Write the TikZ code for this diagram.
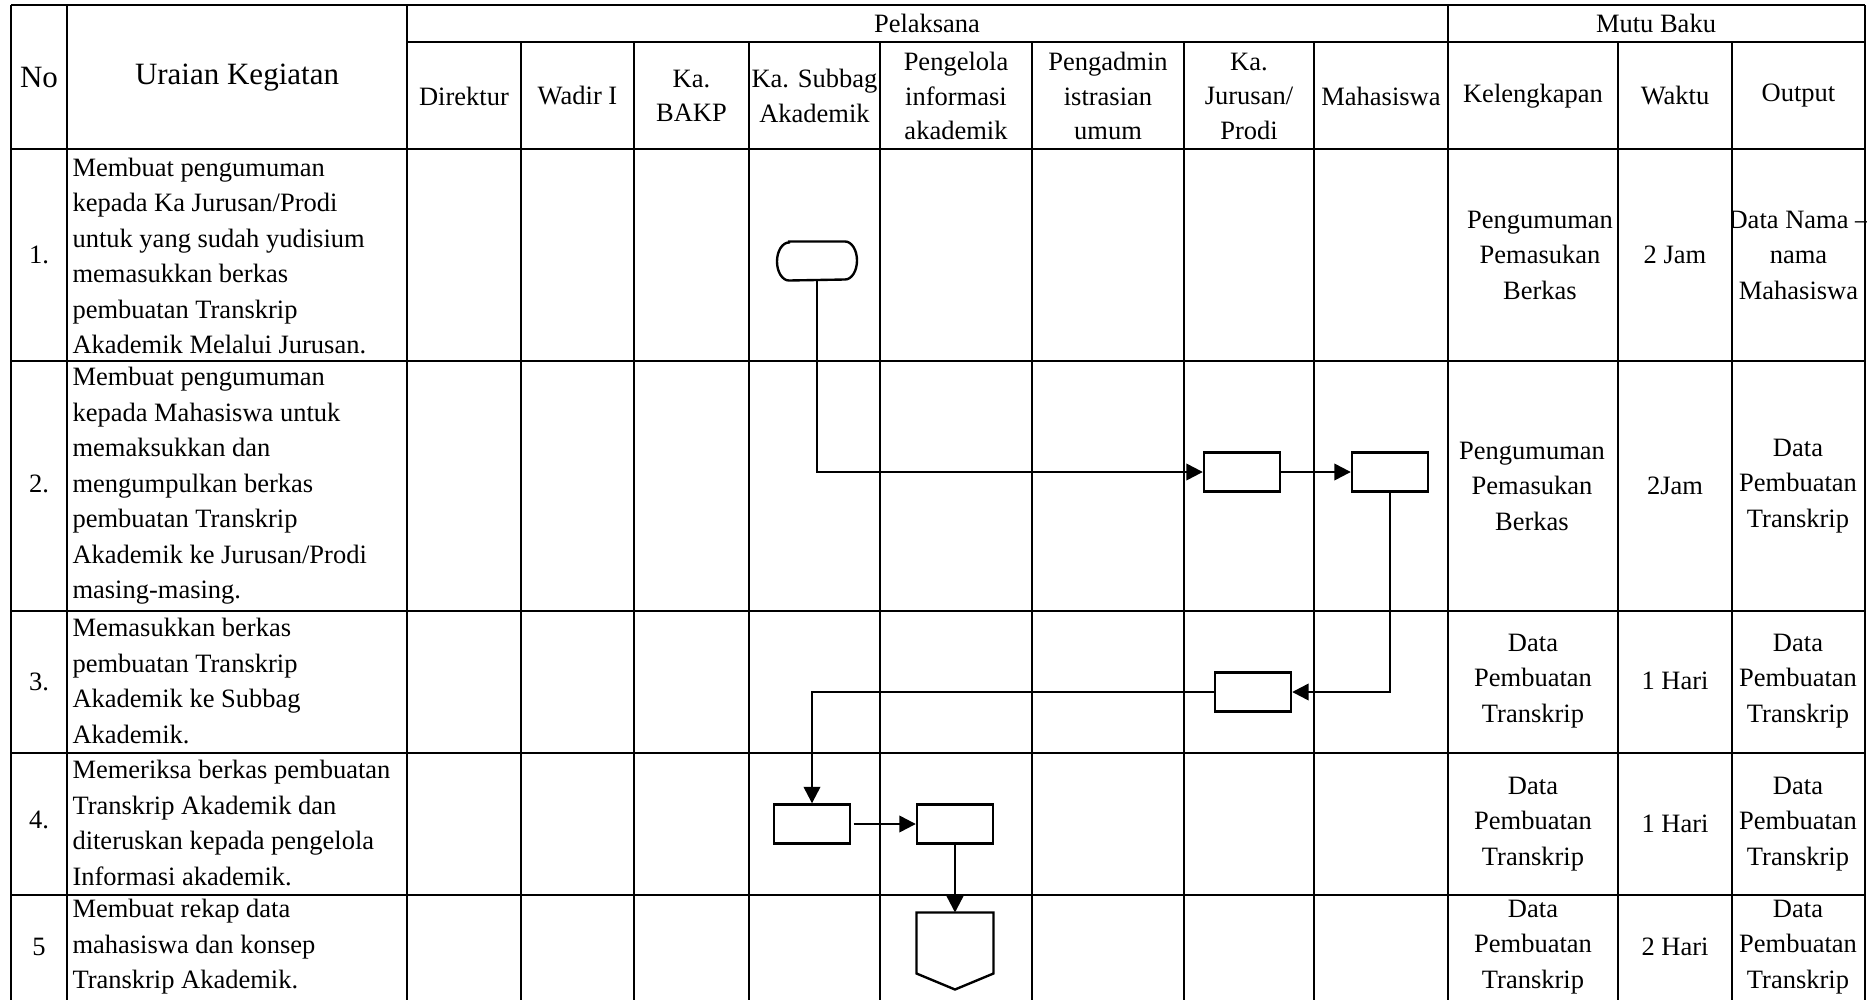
\documentclass[tikz,border=0pt]{standalone}
\usepackage{fontspec}
\setmainfont{Liberation Serif}
\usetikzlibrary{arrows.meta,calc}
\begin{document}
\begin{tikzpicture}[x=0.4pt,y=-0.4pt,
  grid/.style={line width=0.55pt},
  txt/.style={inner sep=0pt, font=\fontsize{10.6}{14.2}\selectfont, align=center},
  hd/.style={inner sep=0pt, font=\fontsize{10.6}{13.8}\selectfont, align=center},
  big/.style={inner sep=0pt, font=\fontsize{12.4}{14}\selectfont},
  desc/.style={inner sep=0pt, font=\fontsize{10.6}{14.2}\selectfont, align=left, anchor=west},
  proc/.style={draw, line width=0.95pt, minimum width=30.4pt, minimum height=15.6pt, inner sep=0pt},
  shp/.style={line width=0.95pt},
  arr/.style={line width=0.95pt, -{Triangle[length=6.6pt,width=6.6pt]}},
  ]
\useasboundingbox[fill=white] (0,0) rectangle (1876,1000);

% table grid
\draw[grid] (11,5) -- (1865,5);
\draw[grid] (407,42) -- (1865,42);
\foreach \y in {149,361,611,753,895} \draw[grid] (11,\y) -- (1865,\y);
\foreach \x in {11,67,407,1448,1865} \draw[grid] (\x,5) -- (\x,1000);
\foreach \x in {521,634,749,880,1032,1184,1314,1618,1732} \draw[grid] (\x,42) -- (\x,1000);

% header
\node[big] (hNo) at (39,78) {No};
\node[big] (hUr) at (237,78) {Uraian Kegiatan};
\node[txt] (hPel) at (927,23) {Pelaksana};
\node[txt] (hMB) at (1656,23) {Mutu Baku};
\node[hd] (hDir) at (464,96) {Direktur};
\node[hd] (hWad) at (577.5,96) {Wadir I};
\node[hd] (hBAKP) at (691.5,96) {Ka.\\BAKP};
\node[hd] (hSub) at (814.5,96) {Ka. Subbag\\Akademik};
\node[hd] (hPIA) at (956,96) {Pengelola\\informasi\\akademik};
\node[hd] (hPAU) at (1108,96) {Pengadmin\\istrasian\\umum};
\node[hd] (hJur) at (1249,96) {Ka.\\Jurusan/\\Prodi};
\node[hd] (hMhs) at (1381,96) {Mahasiswa};
\node[hd] (hKel) at (1533,96) {Kelengkapan};
\node[hd] (hWak) at (1675,96) {Waktu};
\node[hd] (hOut) at (1798.5,96) {Output};

% numbers
\node[txt] (n1) at (39,255) {1.};
\node[txt] (n2) at (39,484) {2.};
\node[txt] (n3) at (39,682) {3.};
\node[txt] (n4) at (39,820) {4.};
\node[txt] (n5) at (39,947) {5};

% descriptions
\node[desc] (d1) at (72,256) {Membuat pengumuman\\kepada Ka Jurusan/Prodi\\untuk yang sudah yudisium\\memasukkan berkas\\pembuatan Transkrip\\Akademik Melalui Jurusan.};
\node[desc] (d2) at (72,486) {Membuat pengumuman\\kepada Mahasiswa untuk\\memaksukkan dan\\mengumpulkan berkas\\pembuatan Transkrip\\Akademik ke Jurusan/Prodi\\masing-masing.};
\node[desc] (d3) at (72,681) {Memasukkan berkas\\pembuatan Transkrip\\Akademik ke Subbag\\Akademik.};
\node[desc] (d4) at (72,823) {Memeriksa berkas pembuatan\\Transkrip Akademik dan\\diteruskan kepada pengelola\\Informasi akademik.};
\node[desc] (d5) at (72,947) {Membuat rekap data\\mahasiswa dan konsep\\Transkrip Akademik.};

% mutu baku columns
\node[txt] (k1) at (1540,255) {Pengumuman\\Pemasukan\\Berkas};
\node[txt] (w1) at (1675,255) {2 Jam};
\begin{scope}
\clip (1733,150) rectangle (1866,360);
\node[txt] (o1) at (1798.5,255) {Data Nama –\\nama\\Mahasiswa};
\end{scope}
\node[txt] (k2) at (1532,486) {Pengumuman\\Pemasukan\\Berkas};
\node[txt] (w2) at (1675,486) {2Jam};
\node[txt] (o2) at (1798,486) {Data\\Pembuatan\\Transkrip};
\node[txt] (k3) at (1533,681) {Data\\Pembuatan\\Transkrip};
\node[txt] (w3) at (1675,681) {1 Hari};
\node[txt] (o3) at (1798,681) {Data\\Pembuatan\\Transkrip};
\node[txt] (k4) at (1533,824) {Data\\Pembuatan\\Transkrip};
\node[txt] (w4) at (1675,824) {1 Hari};
\node[txt] (o4) at (1798,824) {Data\\Pembuatan\\Transkrip};
\node[txt] (k5) at (1533,947) {Data\\Pembuatan\\Transkrip};
\node[txt] (w5) at (1675,947) {2 Hari};
\node[txt] (o5) at (1798,947) {Data\\Pembuatan\\Transkrip};

% flow shapes
\node[minimum width=31.6pt, minimum height=15.2pt, inner sep=0pt] (t) at (817,261) {};
\draw[shp] ([xshift=4.8pt]t.north west) -- ([xshift=-4.8pt]t.north east)
  arc[start angle=90,end angle=-90,x radius=4.8pt,y radius=7.6pt]
  -- ([xshift=4.8pt]t.south west)
  arc[start angle=270,end angle=90,x radius=4.8pt,y radius=7.6pt] -- cycle;
\node[proc] (b1) at (1242,472) {};
\node[proc] (b2) at (1390,472) {};
\node[proc] (b3) at (1253,692) {};
\node[proc] (b4) at (812,824) {};
\node[proc] (b5) at (955,824) {};
\node[minimum width=30.4pt, minimum height=30.4pt, inner sep=0pt] (op) at (955,951) {};
\draw[shp] (op.north west) -- (op.north east) -- ([yshift=6.4pt]op.south east)
  -- (op.south) -- ([yshift=6.4pt]op.south west) -- cycle;

% connectors
\draw[arr] (t.south) |- (b1.west);
\draw[arr] (b1.east) -- (b2.west);
\draw[arr] (b2.south) |- (b3.east);
\draw[arr] (b3.west) -| (b4.north);
\draw[arr] ([xshift=1pt]b4.east) -- (b5.west);
\draw[arr] (b5.south) -- (op.north);
\end{tikzpicture}
\end{document}
